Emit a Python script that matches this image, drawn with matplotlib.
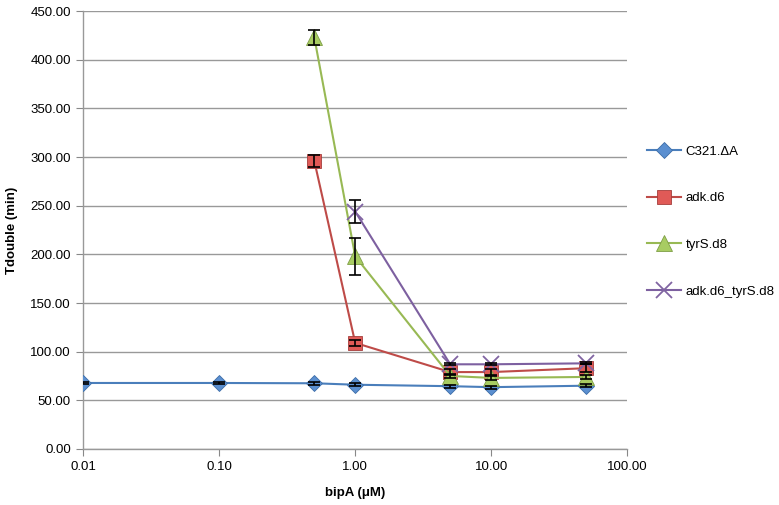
import matplotlib.pyplot as plt
import numpy as np

plt.rcParams['font.family'] = ['Liberation Sans', 'DejaVu Sans']

# bipA concentration (uM)
conc_all = [0.01, 0.1, 0.5, 1, 5, 10, 50]
conc_hi = [0.5, 1, 5, 10, 50]
conc_dbl = [1, 5, 10, 50]

c321 = [67.8, 67.8, 67.5, 66.0, 64.5, 63.5, 65.0]
c321_err = [1.5, 1.5, 1.5, 1.5, 1.5, 1.5, 1.5]
adk = [296, 109, 79, 79, 83]
adk_err = [6, 3, 3, 3, 4]
tyrs = [423, 198, 75, 73, 74]
tyrs_err = [8, 19, 2, 2, 2]
adk_tyrs = [244, 87, 87, 88]
adk_tyrs_err = [12, 1, 1, 1]

labels = ['C321.ΔA', 'adk.d6', 'tyrS.d8', 'adk.d6_tyrS.d8']
line_colors = ['#4A7EBB', '#BE4B48', '#98B954', '#7D60A0']
face_colors = ['#5B8FD0', '#E05A57', '#A8CC62', '#8064A2']
edge_colors = ['#3C6DA8', '#A43E3B', '#7E9E45', '#8064A2']
markers = ['D', 's', '^', 'x']
sizes = [8, 10, 11, 11]

xs = [conc_all, conc_hi, conc_hi, conc_dbl]
ys = [c321, adk, tyrs, adk_tyrs]
errs = [c321_err, adk_err, tyrs_err, adk_tyrs_err]

fig = plt.figure(figsize=(7.79, 5.05), dpi=100)
ax = fig.add_axes([0.107, 0.111, 0.698, 0.867])

for i in range(4):
    ax.plot(xs[i], ys[i], color=line_colors[i], marker=markers[i], ms=sizes[i],
            mfc=face_colors[i], mec=edge_colors[i], mew=1.3 if markers[i] == 'x' else 0.6,
            lw=1.5, label=labels[i], zorder=3)
    ax.errorbar(xs[i], ys[i], yerr=errs[i], fmt='none', ecolor='black',
                capsize=4, elinewidth=1.2, capthick=1.2, zorder=4)

ax.set_xscale('log')
ax.set_xlim(0.01, 100)
ax.set_ylim(0, 450)
ax.set_yticks(np.arange(0, 451, 50))
ax.set_yticklabels(['%.2f' % v for v in np.arange(0, 451, 50)])
ax.set_xticks([0.01, 0.1, 1, 10, 100])
ax.set_xticklabels(['0.01', '0.10', '1.00', '10.00', '100.00'])
ax.xaxis.set_minor_locator(plt.NullLocator())
ax.tick_params(labelsize=9.5, color='#888888', length=5, pad=4)
ax.grid(axis='y', color='#999999', lw=1)
ax.set_axisbelow(True)
for s in ['top', 'right']:
    ax.spines[s].set_visible(False)
for s in ['left', 'bottom']:
    ax.spines[s].set_color('#999999')
    ax.spines[s].set_linewidth(1)

ax.set_xlabel('bipA (μM)', fontweight='bold', fontsize=9.5, labelpad=10)
ax.set_ylabel('Tdouble (min)', fontweight='bold', fontsize=9.5, labelpad=9)

fig.legend(loc='upper left', bbox_to_anchor=(0.824, 0.722),
           frameon=False, fontsize=9.5, labelspacing=2.6, handlelength=2.6,
           handletextpad=0.3, borderaxespad=0)

fig.savefig('out.png', dpi=100)
